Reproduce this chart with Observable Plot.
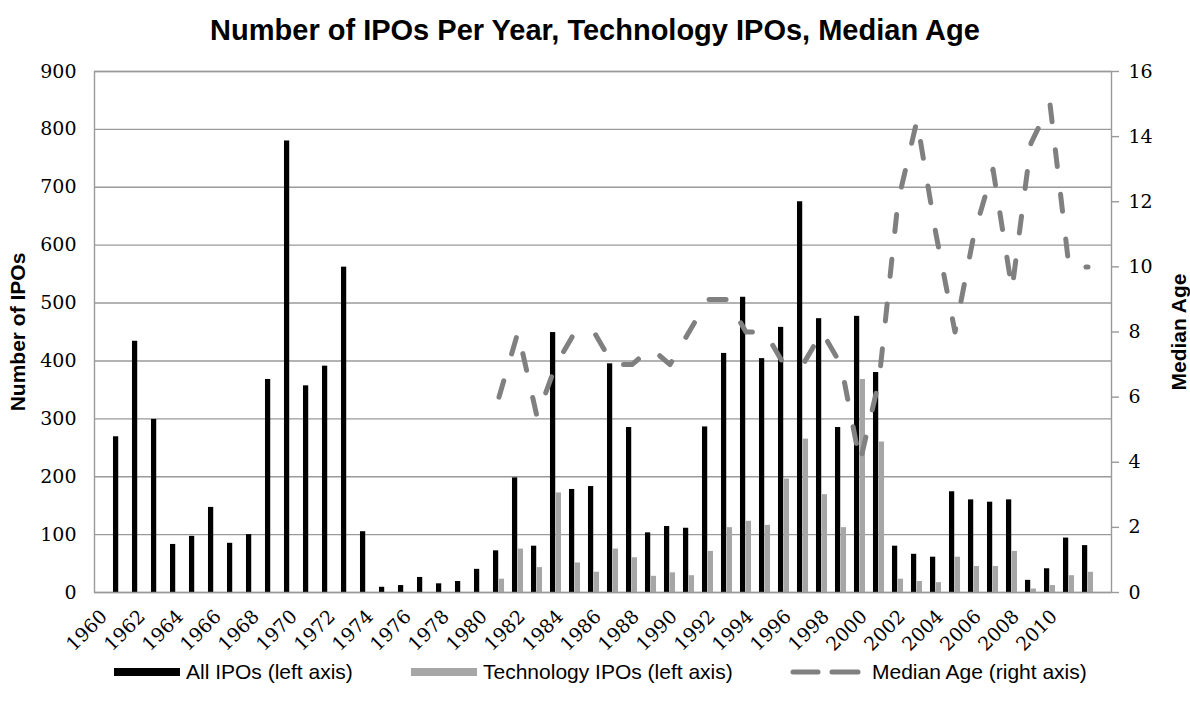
<!DOCTYPE html>
<html><head><meta charset="utf-8">
<script src="https://cdn.jsdelivr.net/npm/d3@7"></script>
<script src="https://cdn.jsdelivr.net/npm/@observablehq/plot@0.6"></script>
<style>
body{margin:0;background:#fff;width:1190px;height:708px;overflow:hidden;position:relative;font-family:"Liberation Sans",Arial,sans-serif;color:#000}
#title{height:52px;box-sizing:border-box;padding-top:13px;text-align:center;font-weight:bold;font-size:29px;line-height:34px;white-space:nowrap}
#legend{position:absolute;left:0;top:659px;width:1190px;height:30px}
.item{position:absolute;top:0;height:26px;display:flex;align-items:center;font-size:21px;white-space:nowrap}
.sw{display:inline-block;width:66px;height:8px;margin-right:6px}
</style></head><body>
<div id="title">Number of IPOs Per Year, Technology IPOs, Median Age</div>
<div id="chart"></div>
<div id="legend"></div>
<script>
const years = [1960,1961,1962,1963,1964,1965,1966,1967,1968,1969,
  1970,1971,1972,1973,1974,1975,1976,1977,1978,1979,
  1980,1981,1982,1983,1984,1985,1986,1987,1988,1989,
  1990,1991,1992,1993,1994,1995,1996,1997,1998,1999,
  2000,2001,2002,2003,2004,2005,2006,2007,2008,2009,
  2010,2011];
const allIPOs = [269,434,299,83,97,147,85,100,368,780,
  357,391,562,105,9,12,26,15,19,40,
  72,198,80,449,178,183,395,285,103,114,
  111,286,413,510,404,458,675,473,285,477,
  380,80,66,61,174,160,156,160,21,41,
  94,81];
const techIPOs = [null,null,null,null,null,null,null,null,null,null,
  null,null,null,null,null,null,null,null,null,null,
  23,75,43,172,51,35,75,60,28,34,
  29,71,112,123,116,196,265,169,112,368,
  260,23,19,17,61,45,45,71,6,12,
  29,35];
const medianAge = [null,null,null,null,null,null,null,null,null,null,
  null,null,null,null,null,null,null,null,null,null,
  6,8,5.4,7,8,8,7,7,7.5,7,
  8,9,9,8,8,7,7,8,7,4,
  6.5,12,14.5,11,8,11,13,9.3,13.8,15,
  10,10];
const leftTicks = [0,100,200,300,400,500,600,700,800,900];
const rightTicks = [0,2,4,6,8,10,12,14,16];
const xTickYears = years.filter(y => y % 2 === 0);

const LEFT_MAX = 900, RIGHT_MAX = 16, K = LEFT_MAX / RIGHT_MAX;
const rows = years.map((y, i) => ({year: y, all: allIPOs[i], tech: techIPOs[i], age: medianAge[i]}));
const techRows = rows.filter(d => d.tech != null);
const ageRows = rows.filter(d => d.age != null);

const step = (1111 - 94) / years.length;
const barW = 5.8;
const half = step / 2;
const sans = "'Liberation Sans', Arial, sans-serif";

const chart = Plot.plot({
  width: 1190,
  height: 610,
  marginLeft: 94,
  marginRight: 79,
  marginTop: 19,
  marginBottom: 70,
  style: {fontFamily: "'DejaVu Serif', serif", fontSize: "19px", color: "#000", background: "#fff"},
  x: {type: "band", domain: years, padding: 0, align: 0.5},
  y: {domain: [0, LEFT_MAX]},
  marks: [
    Plot.gridY(leftTicks, {stroke: "#9a9a9a", strokeOpacity: 1, strokeWidth: 1.4}),
    Plot.barY(rows, {x: "year", y: "all", fill: "#000", insetLeft: half - barW, insetRight: half}),
    Plot.barY(techRows, {x: "year", y: "tech", fill: "#a6a6a6", insetLeft: half, insetRight: half - barW}),
    Plot.line(ageRows, {x: "year", y: d => d.age * K, stroke: "#808080", strokeWidth: 5, strokeDasharray: "17,28", strokeLinecap: "round", strokeLinejoin: "round"}),
    Plot.frame({stroke: "#9a9a9a", strokeWidth: 1.4}),
    Plot.axisY({ticks: leftTicks, anchor: "left", tickSize: 0, tickPadding: 18, label: null, fontSize: 19}),
    Plot.axisY({ticks: rightTicks.map(v => v * K), anchor: "right", tickSize: 7, tickPadding: 10, stroke: "#9a9a9a", strokeWidth: 1.4, tickFormat: v => String(Math.round(v / K)), label: null, fontSize: 19}),
    Plot.axisX({ticks: xTickYears, tickFormat: d => String(d), tickRotate: -45, tickSize: 0, tickPadding: 21, dx: -15, label: null, fontSize: 19}),
    Plot.text(["Number of IPOs"], {frameAnchor: "left", textAnchor: "middle", rotate: -90, dx: -76, fontWeight: "bold", fontSize: 21, fontFamily: sans}),
    Plot.text(["Median Age"], {frameAnchor: "right", textAnchor: "middle", rotate: -90, dx: 68, fontWeight: "bold", fontSize: 21, fontFamily: sans})
  ]
});
document.getElementById("chart").appendChild(chart);

const legendItems = [
  {label: "All IPOs (left axis)", left: 114, kind: "bar", color: "#000"},
  {label: "Technology IPOs (left axis)", left: 411, kind: "bar", color: "#a6a6a6"},
  {label: "Median Age (right axis)", left: 790, kind: "dash", color: "#808080"}
];
const legend = document.getElementById("legend");
for (const it of legendItems) {
  const div = document.createElement("div");
  div.className = "item";
  div.style.left = it.left + "px";
  if (it.kind === "bar") {
    const s = document.createElement("span");
    s.className = "sw";
    s.style.background = it.color;
    div.appendChild(s);
  } else {
    const ns = "http://www.w3.org/2000/svg";
    const svg = document.createElementNS(ns, "svg");
    svg.setAttribute("width", 76); svg.setAttribute("height", 10);
    svg.style.marginRight = "6px";
    for (const [a, b] of [[3, 28], [42, 68]]) {
      const l = document.createElementNS(ns, "line");
      l.setAttribute("x1", a); l.setAttribute("x2", b);
      l.setAttribute("y1", 5); l.setAttribute("y2", 5);
      l.setAttribute("stroke", it.color); l.setAttribute("stroke-width", 5);
      l.setAttribute("stroke-linecap", "round");
      svg.appendChild(l);
    }
    div.appendChild(svg);
  }
  const t = document.createElement("span");
  t.textContent = it.label;
  div.appendChild(t);
  legend.appendChild(div);
}
</script>
</body></html>
